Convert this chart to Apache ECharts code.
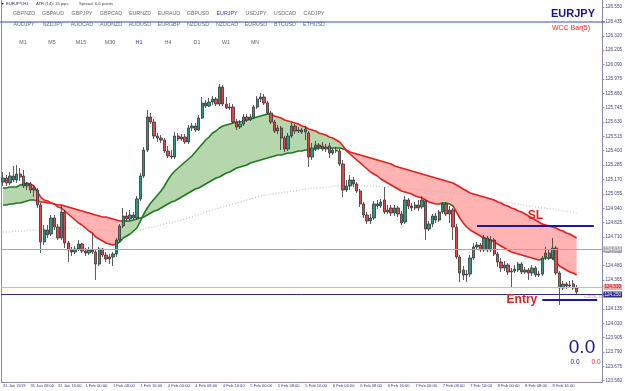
<!DOCTYPE html>
<html>
<head>
<meta charset="utf-8">
<script src="https://cdn.jsdelivr.net/npm/echarts@6/dist/echarts.min.js"></script>
<style>
  html, body { margin: 0; padding: 0; background: #fff; }
  #chart { width: 625px; height: 391px; }
</style>
</head>
<body>
<div id="chart"></div>
<script>
// EURJPY H1, 31 Jan - 8 Feb 2019 (168 hourly bars)
const days = ['31 Jan', '1 Feb', '4 Feb', '5 Feb', '6 Feb', '7 Feb', '8 Feb'];
const timeTicks = ['31 Jan 2019', '31 Jan 08:00', '31 Jan 16:00', '1 Feb 00:00', '1 Feb 08:00', '1 Feb 16:00',
  '4 Feb 00:00', '4 Feb 08:00', '4 Feb 16:00', '5 Feb 00:00', '5 Feb 08:00', '5 Feb 16:00',
  '6 Feb 00:00', '6 Feb 08:00', '6 Feb 16:00', '7 Feb 00:00', '7 Feb 08:00', '7 Feb 16:00',
  '8 Feb 00:00', '8 Feb 08:00', '8 Feb 16:00'];
const priceTicks = [126.550, 126.435, 126.320, 126.205, 126.090, 125.975, 125.860, 125.745, 125.630,
  125.515, 125.400, 125.285, 125.170, 125.055, 124.940, 124.825, 124.710, 124.595, 124.480, 124.365,
  124.250, 124.135, 124.020, 123.905, 123.790, 123.675, 123.560];

// [open, close, low, high]
const ohlc = [
  [125.150,125.182,125.118,125.230],[125.182,125.142,125.118,125.206],[125.142,125.198,125.126,125.230],
  [125.198,125.166,125.150,125.278],[125.166,125.214,125.142,125.286],[125.214,125.190,125.158,125.262],
  [125.198,125.118,125.102,125.246],[125.118,125.134,125.086,125.150],[125.134,125.086,125.062,125.150],
  [125.086,125.102,125.030,125.126],[125.086,124.966,124.942,125.102],[124.966,124.670,124.582,124.982],
  [124.670,124.766,124.646,124.806],[124.766,124.726,124.702,124.806],[124.734,124.862,124.718,124.886],
  [124.862,124.790,124.766,124.886],[124.790,124.702,124.686,124.814],[124.702,124.910,124.686,124.966],
  [124.910,124.662,124.622,124.926],[124.662,124.606,124.510,124.678],[124.606,124.590,124.558,124.630],
  [124.590,124.614,124.574,124.638],[124.614,124.654,124.598,124.686],[124.654,124.598,124.582,124.662],
  [124.598,124.582,124.558,124.622],[124.582,124.606,124.566,124.630],[124.606,124.590,124.574,124.742],
  [124.590,124.494,124.366,124.606],[124.494,124.614,124.478,124.630],[124.614,124.566,124.550,124.622],
  [124.566,124.534,124.510,124.590],[124.534,124.550,124.494,124.574],[124.550,124.574,124.478,124.590],
  [124.574,124.686,124.550,124.702],[124.686,124.798,124.670,124.814],[124.798,124.878,124.782,124.942],
  [124.878,124.854,124.830,124.910],[124.854,124.886,124.838,124.926],[124.886,124.862,124.846,124.910],
  [124.862,125.014,124.846,125.038],[125.014,125.198,124.998,125.222],[125.198,125.406,125.182,125.430],
  [125.406,125.670,125.390,125.726],[125.670,125.630,125.614,125.702],[125.630,125.518,125.494,125.654],
  [125.518,125.502,125.470,125.542],[125.502,125.486,125.462,125.526],[125.486,125.398,125.382,125.502],
  [125.398,125.358,125.342,125.438],[125.358,125.350,125.334,125.406],[125.350,125.518,125.334,125.550],
  [125.518,125.494,125.478,125.542],[125.494,125.510,125.478,125.534],[125.510,125.470,125.454,125.534],
  [125.470,125.582,125.454,125.606],[125.582,125.598,125.558,125.622],[125.598,125.566,125.550,125.622],
  [125.566,125.662,125.558,125.686],[125.662,125.782,125.654,125.830],[125.782,125.758,125.742,125.806],
  [125.758,125.790,125.750,125.822],[125.790,125.814,125.766,125.838],[125.814,125.774,125.758,125.830],
  [125.774,125.910,125.758,125.934],[125.910,125.774,125.758,125.926],[125.774,125.742,125.734,125.830],
  [125.742,125.750,125.726,125.782],[125.750,125.630,125.614,125.774],[125.630,125.590,125.566,125.654],
  [125.590,125.614,125.574,125.646],[125.614,125.670,125.598,125.694],[125.670,125.646,125.630,125.694],
  [125.646,125.670,125.638,125.694],[125.670,125.750,125.654,125.766],[125.750,125.814,125.734,125.838],
  [125.814,125.830,125.790,125.862],[125.830,125.782,125.766,125.854],[125.782,125.702,125.686,125.798],
  [125.702,125.630,125.614,125.718],[125.630,125.558,125.542,125.646],[125.558,125.582,125.534,125.606],
  [125.582,125.502,125.406,125.598],[125.502,125.414,125.390,125.518],[125.414,125.518,125.398,125.542],
  [125.518,125.598,125.502,125.622],[125.598,125.558,125.534,125.614],[125.558,125.566,125.542,125.590],
  [125.566,125.550,125.534,125.582],[125.550,125.574,125.486,125.598],[125.542,125.350,125.270,125.558],
  [125.350,125.422,125.326,125.462],[125.422,125.446,125.398,125.478],[125.446,125.430,125.406,125.462],
  [125.438,125.414,125.398,125.470],[125.414,125.430,125.390,125.454],[125.438,125.382,125.342,125.462],
  [125.382,125.406,125.366,125.422],[125.406,125.398,125.382,125.430],[125.398,125.294,125.278,125.414],
  [125.294,125.086,125.030,125.326],[125.086,125.118,125.070,125.166],[125.118,125.166,125.086,125.206],
  [125.166,125.134,125.110,125.190],[125.134,125.078,125.062,125.150],[125.078,124.974,124.950,125.094],
  [124.974,124.886,124.862,124.990],[124.886,124.838,124.814,124.910],[124.838,124.862,124.814,124.894],
  [124.862,124.974,124.846,124.998],[124.974,124.958,124.934,125.006],[124.958,124.990,124.942,125.014],
  [125.006,124.910,124.894,125.110],[124.910,124.926,124.894,124.966],[124.942,124.902,124.878,124.966],
  [124.902,124.942,124.878,124.966],[124.942,124.894,124.870,124.958],[124.894,124.822,124.806,124.918],
  [124.830,125.006,124.814,125.038],[125.006,124.958,124.934,125.022],[124.958,124.942,124.918,124.982],
  [124.942,124.966,124.926,124.990],[124.966,124.942,124.918,125.006],[124.950,125.006,124.934,125.038],
  [124.998,124.774,124.686,125.014],[124.774,124.814,124.758,124.838],[124.814,124.878,124.790,124.894],
  [124.878,124.846,124.822,124.902],[124.846,124.910,124.830,124.926],[124.910,124.974,124.894,124.990],
  [124.974,124.894,124.878,124.990],[124.894,124.926,124.822,124.958],[124.926,124.790,124.686,124.942],
  [124.790,124.550,124.534,124.814],[124.550,124.422,124.350,124.566],[124.446,124.406,124.366,124.478],
  [124.406,124.414,124.350,124.446],[124.414,124.542,124.390,124.566],[124.542,124.630,124.526,124.662],
  [124.630,124.646,124.606,124.670],[124.646,124.606,124.590,124.662],[124.606,124.702,124.590,124.726],
  [124.702,124.606,124.590,124.718],[124.606,124.686,124.590,124.718],[124.686,124.574,124.558,124.702],
  [124.574,124.510,124.470,124.590],[124.510,124.462,124.430,124.542],[124.462,124.486,124.438,124.518],
  [124.486,124.430,124.406,124.502],[124.430,124.438,124.302,124.462],[124.438,124.454,124.422,124.486],
  [124.446,124.494,124.430,124.510],[124.494,124.430,124.414,124.510],[124.430,124.446,124.414,124.470],
  [124.446,124.422,124.366,124.462],[124.422,124.462,124.398,124.486],[124.462,124.406,124.390,124.478],
  [124.406,124.414,124.390,124.438],[124.414,124.542,124.398,124.558],[124.550,124.582,124.526,124.630],
  [124.582,124.542,124.526,124.606],[124.542,124.622,124.526,124.702],[124.622,124.422,124.406,124.638],
  [124.422,124.302,124.166,124.438],[124.302,124.334,124.286,124.358],[124.334,124.318,124.294,124.350],
  [124.318,124.326,124.302,124.358],[124.334,124.302,124.286,124.366],[124.302,124.270,124.246,124.326]
];

// fast moving average (upper/lower edge of the cloud)
const fastMA = [
  125.102,125.102,125.110,125.110,125.110,125.126,125.134,125.142,125.134,125.118,
  125.070,125.030,125.006,124.998,124.982,124.974,124.950,124.942,124.918,124.894,
  124.870,124.846,124.822,124.806,124.782,124.758,124.742,124.710,124.694,124.678,
  124.662,124.654,124.646,124.654,124.670,124.702,124.718,124.734,124.758,124.782,
  124.838,124.894,124.942,124.982,125.014,125.046,125.078,125.118,125.166,125.206,
  125.238,125.262,125.286,125.310,125.334,125.358,125.390,125.422,125.454,125.486,
  125.510,125.542,125.558,125.582,125.598,125.606,125.614,125.622,125.630,125.630,
  125.638,125.646,125.654,125.662,125.670,125.678,125.686,125.694,125.694,125.678,
  125.670,125.662,125.646,125.638,125.630,125.622,125.614,125.598,125.590,125.574,
  125.566,125.558,125.542,125.534,125.526,125.510,125.502,125.486,125.470,125.438,
  125.398,125.374,125.350,125.326,125.302,125.278,125.254,125.230,125.214,125.198,
  125.174,125.158,125.142,125.126,125.110,125.094,125.078,125.070,125.062,125.054,
  125.038,125.030,125.022,125.006,124.990,124.982,124.974,124.974,124.982,124.982,
  124.974,124.958,124.910,124.862,124.822,124.790,124.766,124.750,124.734,124.718,
  124.702,124.694,124.686,124.670,124.654,124.638,124.622,124.606,124.590,124.582,
  124.574,124.566,124.558,124.550,124.542,124.534,124.526,124.534,124.542,124.542,
  124.542,124.510,124.478,124.462,124.446,124.430,124.422,124.406
];

// slow moving average
const slowMA = [
  124.966,124.966,124.974,124.974,124.982,124.982,124.990,124.998,125.006,125.006,
  124.998,124.990,124.990,124.982,124.982,124.974,124.966,124.966,124.958,124.950,
  124.942,124.934,124.926,124.918,124.910,124.902,124.894,124.886,124.878,124.870,
  124.870,124.862,124.854,124.846,124.838,124.838,124.838,124.838,124.846,124.854,
  124.862,124.870,124.886,124.902,124.918,124.926,124.942,124.958,124.974,124.990,
  124.998,125.014,125.030,125.046,125.062,125.078,125.094,125.102,125.118,125.134,
  125.150,125.166,125.182,125.190,125.206,125.222,125.230,125.246,125.262,125.270,
  125.278,125.286,125.302,125.310,125.318,125.326,125.334,125.342,125.350,125.358,
  125.366,125.366,125.374,125.382,125.382,125.390,125.398,125.398,125.406,125.406,
  125.414,125.414,125.422,125.422,125.422,125.422,125.422,125.422,125.422,125.414,
  125.406,125.390,125.382,125.374,125.366,125.358,125.350,125.342,125.334,125.326,
  125.318,125.310,125.302,125.294,125.278,125.270,125.262,125.254,125.246,125.238,
  125.230,125.222,125.214,125.206,125.198,125.190,125.182,125.174,125.166,125.158,
  125.150,125.142,125.126,125.110,125.094,125.078,125.062,125.054,125.046,125.038,
  125.030,125.022,125.014,125.006,124.990,124.982,124.966,124.958,124.942,124.934,
  124.918,124.910,124.894,124.878,124.862,124.846,124.830,124.814,124.806,124.798,
  124.790,124.782,124.766,124.758,124.742,124.734,124.718,124.702
];

// long moving average (grey dotted)
const longMA = [
  124.750,124.750,124.750,124.758,124.758,124.758,124.758,124.766,124.766,124.766,
  124.766,124.766,124.774,124.774,124.774,124.774,124.782,124.782,124.782,124.782,
  124.782,124.782,124.774,124.774,124.774,124.774,124.774,124.766,124.766,124.766,
  124.766,124.758,124.758,124.758,124.758,124.758,124.758,124.758,124.766,124.766,
  124.766,124.774,124.782,124.790,124.790,124.798,124.806,124.814,124.822,124.822,
  124.830,124.838,124.846,124.854,124.862,124.870,124.878,124.886,124.894,124.910,
  124.918,124.926,124.934,124.942,124.950,124.958,124.966,124.974,124.982,124.990,
  124.998,125.006,125.014,125.022,125.030,125.038,125.046,125.046,125.054,125.054,
  125.062,125.062,125.070,125.070,125.078,125.078,125.086,125.086,125.094,125.094,
  125.102,125.102,125.102,125.110,125.110,125.110,125.118,125.118,125.118,125.126,
  125.126,125.126,125.126,125.126,125.126,125.118,125.118,125.118,125.118,125.118,
  125.110,125.110,125.110,125.110,125.110,125.102,125.102,125.102,125.094,125.094,
  125.094,125.086,125.086,125.078,125.078,125.078,125.070,125.070,125.070,125.070,
  125.062,125.062,125.062,125.054,125.054,125.046,125.046,125.038,125.038,125.030,
  125.022,125.014,125.014,125.006,124.998,124.990,124.990,124.982,124.982,124.974,
  124.974,124.966,124.966,124.958,124.958,124.950,124.950,124.942,124.942,124.934,
  124.934,124.926,124.926,124.918,124.918,124.910,124.910,124.902
];

// direction of each average by bar range [from, to, dir]
const slowTrend = [[0, 9, 'up'], [9, 34, 'down'], [34, 100, 'up'], [100, 167, 'down']];
const fastTrend = [[0, 7, 'up'], [7, 33, 'down'], [33, 78, 'up'], [78, 127, 'down'],
  [127, 131, 'up'], [131, 156, 'down'], [156, 160, 'up'], [160, 167, 'down']];

const symbolsRow1 = ['GBPNZD', 'GBPAUD', 'GBPJPY', 'GBPCAD', 'EURNZD', 'EURAUD', 'GBPUSD', 'EURJPY', 'USDJPY', 'USDCAD', 'CADJPY'];
const symbolsRow2 = ['AUDJPY', 'NZDJPY', 'AUDCAD', 'AUDNZD', 'AUDUSD', 'EURGBP', 'NZDUSD', 'NZDCAD', 'EURUSD', 'BTCUSD', 'ETHUSD'];
const timeframes = ['M1', 'M5', 'M15', 'M30', 'H1', 'H4', 'D1', 'W1', 'MN'];

const greyLevel = 124.614;
const pinkLevel = 124.310;
const blueLevel = 124.250;
const slLevel = 124.798;
const entryLevel = 124.206;

const GREEN_LINE = '#1d7a1d';
const RED_LINE = '#e61e1e';
const GREEN_FILL = '#b6d7ae';
const RED_FILL = '#ffb3b3';
const AXIS = '#8a8ab0';
const AXIS_TEXT = '#3c3c78';
const FONT = '"Liberation Sans", Arial, sans-serif';

const pad = (n) => (n < 10 ? '0' + n : '' + n);
const categories = [];
for (let i = 0; i < 175; i++) {
  categories.push(i < 168 ? days[Math.floor(i / 24)] + ' ' + pad(i % 24) + ':00' : '+' + (i - 167));
}

// cloud between the two averages, coloured by slow average direction
const lower = fastMA.map((v, i) => Math.min(v, slowMA[i]));
const gap = fastMA.map((v, i) => Math.abs(v - slowMA[i]));
const inState = (dir, i) => slowTrend.some(([a, b, d]) => d === dir && i >= a && i <= b);
const bandUp = gap.map((g, i) => (inState('up', i) ? g : '-'));
const bandDown = gap.map((g, i) => (inState('down', i) ? g : '-'));

function trendPieces(trend) {
  return trend.map(([a, b, dir], k) => {
    const p = { gte: a, color: dir === 'up' ? GREEN_LINE : RED_LINE };
    if (k < trend.length - 1) p.lt = b; else p.lte = 1000;
    return p;
  });
}

const tickEvery8 = (index) => index % 8 === 0 && index < 168;

const graphic = [
  { type: 'line', silent: true, shape: { x1: 1.5, y1: 0, x2: 1.5, y2: 382 }, style: { stroke: AXIS, lineWidth: 1 } },
  { type: 'text', x: 1, y: 4, style: { text: '▼', fill: '#22226a', font: '3.6px ' + FONT, verticalAlign: 'middle' } },
  { type: 'text', x: 6, y: 4, style: { text: 'EURJPY,H1', fill: '#22226a', font: '4.2px ' + FONT, verticalAlign: 'middle' } },
  { type: 'text', x: 36, y: 4, style: { text: 'ATR (14): 13 pips', fill: '#444', font: '4.2px ' + FONT, verticalAlign: 'middle' } },
  { type: 'text', x: 79, y: 4, style: { text: 'Spread: 6.6 points', fill: '#444', font: '4.2px ' + FONT, verticalAlign: 'middle' } },
  { type: 'text', x: 573, y: 14, style: { text: 'EURJPY', fill: '#14148c', font: 'bold 11px ' + FONT, align: 'center', verticalAlign: 'middle' } },
  { type: 'text', x: 571, y: 28, style: { text: 'WCC Bar(5)', fill: '#ff2020', font: '7px ' + FONT, align: 'center', verticalAlign: 'middle' } },
  { type: 'text', x: 582, y: 348, style: { text: '0.0', fill: '#1a1a80', font: '19px ' + FONT, align: 'center', verticalAlign: 'middle' } },
  { type: 'text', x: 575, y: 362, style: { text: '0.0', fill: '#1a1a80', font: '6.5px ' + FONT, align: 'center', verticalAlign: 'middle' } },
  { type: 'text', x: 596, y: 362, style: { text: '0.0', fill: '#ff2020', font: '6.5px ' + FONT, align: 'center', verticalAlign: 'middle' } },
  { type: 'text', x: 584, y: 297, style: { text: '<-2229--33', fill: '#e070a0', font: '3.8px ' + FONT, verticalAlign: 'middle' } }
];
symbolsRow1.forEach((s, k) => graphic.push({ type: 'text', x: 24 + k * 29, y: 14,
  style: { text: s, fill: s === 'EURJPY' ? '#2e2ee0' : '#6b6b6b', font: '5.3px ' + FONT, align: 'center', verticalAlign: 'middle' } }));
symbolsRow2.forEach((s, k) => graphic.push({ type: 'text', x: 24 + k * 29, y: 25,
  style: { text: s, fill: '#6b6b6b', font: '5.3px ' + FONT, align: 'center', verticalAlign: 'middle' } }));
timeframes.forEach((s, k) => graphic.push({ type: 'text', x: 23 + k * 29, y: 43,
  style: { text: s, fill: s === 'H1' ? '#2828c8' : '#606060', font: '5.3px ' + FONT, align: 'center', verticalAlign: 'middle' } }));
graphic.push({ type: 'line', silent: true, z: 10, shape: { x1: 0, y1: 22, x2: 605, y2: 22 }, style: { stroke: '#2b4fd8', lineWidth: 1.2 } });

function levelLine(value, color, textColor) {
  return {
    yAxis: value,
    lineStyle: { color: color, width: 1, type: 'solid' },
    label: {
      show: true, position: 'end', distance: 1, formatter: value.toFixed(3),
      backgroundColor: color, color: textColor, fontSize: 4.6, fontFamily: FONT, padding: [1, 1, 0, 1]
    }
  };
}

const chart = echarts.init(document.getElementById('chart'), null, { renderer: 'canvas' });
chart.setOption({
  animation: false,
  backgroundColor: '#ffffff',
  grid: { left: 0, right: 20, top: 0, bottom: 9 },
  xAxis: {
    type: 'category',
    data: categories,
    boundaryGap: true,
    axisLine: { lineStyle: { color: AXIS } },
    axisTick: { alignWithLabel: true, interval: tickEvery8, length: 2, lineStyle: { color: AXIS } },
    axisLabel: {
      interval: tickEvery8, formatter: (v, idx) => timeTicks[idx / 8],
      align: 'left', fontSize: 4.1, fontFamily: FONT, color: AXIS_TEXT, margin: 2
    },
    splitLine: { show: false }
  },
  yAxis: {
    type: 'value',
    position: 'right',
    min: 123.55,
    max: 126.606,
    axisLine: { show: true, lineStyle: { color: AXIS } },
    axisTick: { show: true, length: 2, customValues: priceTicks, lineStyle: { color: AXIS } },
    axisLabel: { customValues: priceTicks, formatter: (v) => v.toFixed(3), fontSize: 4.6, fontFamily: FONT, color: AXIS_TEXT, margin: 3 },
    splitLine: { show: false }
  },
  visualMap: [
    { show: false, type: 'piecewise', dimension: 0, seriesIndex: 5, pieces: trendPieces(slowTrend) },
    { show: false, type: 'piecewise', dimension: 0, seriesIndex: 6, pieces: trendPieces(fastTrend) }
  ],
  graphic: graphic,
  series: [
    { name: 'baseUp', type: 'line', stack: 'up', data: lower, symbol: 'none', silent: true, lineStyle: { opacity: 0 }, z: 1 },
    { name: 'cloudUp', type: 'line', stack: 'up', data: bandUp, symbol: 'none', silent: true, lineStyle: { opacity: 0 },
      areaStyle: { color: GREEN_FILL, opacity: 1 }, z: 1 },
    { name: 'baseDown', type: 'line', stack: 'down', data: lower, symbol: 'none', silent: true, lineStyle: { opacity: 0 }, z: 1 },
    { name: 'cloudDown', type: 'line', stack: 'down', data: bandDown, symbol: 'none', silent: true, lineStyle: { opacity: 0 },
      areaStyle: { color: RED_FILL, opacity: 1 }, z: 1 },
    { name: 'long MA', type: 'line', data: longMA, symbol: 'none', silent: true,
      lineStyle: { color: '#b4b4b4', width: 1, type: [1, 2] }, z: 2 },
    { name: 'slow MA', type: 'line', data: slowMA, symbol: 'none', silent: true, lineStyle: { width: 1.6 }, z: 3 },
    { name: 'fast MA', type: 'line', data: fastMA, symbol: 'none', silent: true, lineStyle: { width: 1.6 }, z: 3 },
    {
      name: 'EURJPY', type: 'candlestick', data: ohlc, barWidth: 2.8, z: 4,
      itemStyle: { color: '#2a9a80', color0: '#e8434b', borderColor: '#333333', borderColor0: '#333333', borderWidth: 0.8 },
      markLine: {
        symbol: 'none', silent: true, animation: false,
        data: [
          levelLine(greyLevel, '#a8a8a8', '#ffffff'),
          levelLine(pinkLevel, '#f4a8a8', '#c00000'),
          levelLine(blueLevel, '#2a2a8a', '#ffffff'),
          [
            { coord: [138, slLevel], lineStyle: { color: '#1a1aa0', width: 2, type: 'solid' },
              label: { show: true, position: 'insideMiddleTop', formatter: 'SL', color: '#e52020', fontSize: 12, fontWeight: 'bold', fontFamily: FONT, distance: 4 } },
            { coord: [172, slLevel] }
          ],
          [
            { coord: [157, entryLevel], lineStyle: { color: '#1a1aa0', width: 2, type: 'solid' },
              label: { show: true, position: 'start', formatter: 'Entry', color: '#e52020', fontSize: 12, fontWeight: 'bold', fontFamily: FONT, distance: 5 } },
            { coord: [173, entryLevel] }
          ]
        ]
      }
    }
  ]
});
</script>
</body>
</html>
